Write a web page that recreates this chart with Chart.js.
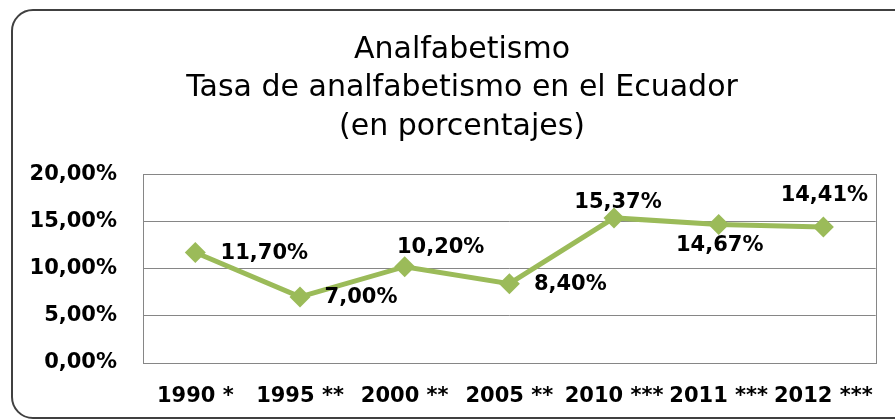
<!DOCTYPE html>
<html>
<head>
<meta charset="utf-8">
<script src="https://cdn.jsdelivr.net/npm/chart.js@4.4.1/dist/chart.umd.min.js"></script>
<style>
  html, body { margin: 0; padding: 0; background: #fff; }
  #wrap { position: relative; width: 895px; height: 420px; overflow: hidden; }
  #frame {
    position: absolute; left: 11px; top: 9px; width: 920px; height: 406px;
    border: 2px solid #404040; border-radius: 22px;
  }
  #box { position: absolute; left: 0; top: 0; width: 895px; height: 420px; }
</style>
</head>
<body>
<div id="wrap">
  <div id="frame"></div>
  <div id="box"><canvas id="chart"></canvas></div>
</div>
<script>
// ── datos ──
const years = ['1990 *', '1995 **', '2000 **', '2005 **', '2010 ***', '2011 ***', '2012 ***'];
const rates = [11.70, 7.00, 10.20, 8.40, 15.37, 14.67, 14.41];
const yTicks = [0, 5, 10, 15, 20];
const titleLines = ['Analfabetismo', 'Tasa de analfabetismo en el Ecuador', '(en porcentajes)'];

const green = '#9bbb59';
const fmt = v => v.toFixed(2).replace('.', ',') + '%';

// borde del área de trazado
const plotBorder = {
  id: 'plotBorder',
  beforeDatasetsDraw(chart) {
    const a = chart.chartArea, ctx = chart.ctx;
    ctx.save();
    ctx.strokeStyle = '#868686';
    ctx.lineWidth = 1;
    ctx.strokeRect(Math.round(a.left) + 0.5, Math.round(a.top) + 0.5,
                   Math.round(a.right - a.left), Math.round(a.bottom - a.top));
    ctx.restore();
  }
};

// etiquetas de valor (posiciones como en la hoja original)
const valueLabels = {
  id: 'valueLabels',
  afterDatasetsDraw(chart, args, opts) {
    const ctx = chart.ctx;
    const meta = chart.getDatasetMeta(0);
    ctx.save();
    ctx.font = opts.font;
    ctx.fillStyle = '#000';
    ctx.textAlign = 'center';
    ctx.textBaseline = 'middle';
    meta.data.forEach((pt, i) => {
      const [dx, dy] = opts.offsets[i];
      ctx.fillText(fmt(rates[i]), pt.x + dx, pt.y + dy);
    });
    ctx.restore();
  }
};

new Chart(document.getElementById('chart'), {
  type: 'line',
  data: {
    labels: years,
    datasets: [{
      data: rates,
      borderColor: green,
      backgroundColor: green,
      borderWidth: 5,
      tension: 0,
      pointStyle: 'rectRot',
      pointRadius: 10.5,
      pointBorderWidth: 0,
      pointBackgroundColor: green
    }]
  },
  options: {
    responsive: true,
    maintainAspectRatio: false,
    animation: false,
    layout: { padding: { left: 47, right: 18, top: 10, bottom: 11 } },
    scales: {
      x: {
        offset: true,
        afterFit: s => { s.height = 46; },
        grid: { display: false, drawTicks: false },
        border: { display: false },
        ticks: {
          color: '#000',
          padding: 21,
          maxRotation: 0,
          autoSkip: false,
          font: { family: 'DejaVu Sans', size: 21, weight: 'bold' }
        }
      },
      y: {
        min: 0,
        max: 20,
        afterBuildTicks: s => { s.ticks = yTicks.map(v => ({ value: v })); },
        afterFit: s => {
          s.width = 96;
          s._computeLabelArea = () => undefined;   // no recortar las etiquetas
        },
        grid: { color: '#868686', lineWidth: 1, drawTicks: false },
        border: { display: false },
        ticks: {
          color: '#000',
          padding: 26,
          callback: v => fmt(v),
          font: { family: 'DejaVu Sans', size: 21, weight: 'bold' }
        }
      }
    },
    plugins: {
      legend: { display: false },
      tooltip: { enabled: false },
      title: {
        display: true,
        text: titleLines,
        color: '#000',
        padding: { top: 21, bottom: 28 },
        font: { family: 'DejaVu Sans', size: 30, weight: 'normal', lineHeight: 1.28 }
      },
      valueLabels: {
        font: 'bold 21px "DejaVu Sans"',
        offsets: [[69, 1], [61, 1], [36, -19], [61, 1], [4, -15], [1, 21], [1, -31]]
      }
    }
  },
  plugins: [plotBorder, valueLabels]
});
</script>
</body>
</html>
